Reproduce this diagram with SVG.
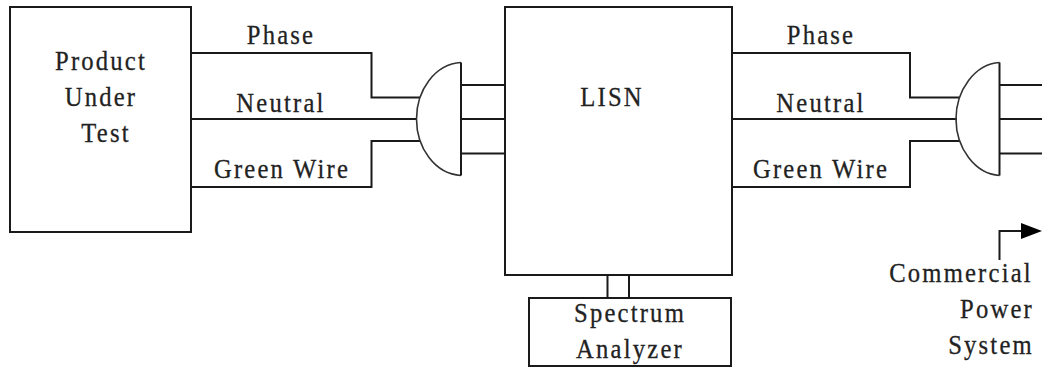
<svg xmlns="http://www.w3.org/2000/svg" width="1042" height="368" viewBox="0 0 1042 368">
<style>
.l{fill:none;stroke:#1a1a1a;stroke-width:2}
.a{fill:none;stroke:#333;stroke-width:1.6}
text{font-family:"Liberation Serif",serif;font-size:28px;letter-spacing:2.5px;fill:#222;stroke:#222;stroke-width:.3;text-anchor:middle}
</style>
<rect width="1042" height="368" fill="#fff"/>
<g id="connectors">
<path class="l" d="M191 53H371.500V97.500H420M191 119H417M191 187H371.500V141H420"/>
<path class="l" d="M461 85H505M461 119H505M461 153.500H505"/>
<path class="l" d="M732 53H910V97.500H960M732 119H957M732 187H910V141H960"/>
<path class="l" d="M1000 85H1042M1000 119H1042M1000 153.500H1042"/>
<path class="l" d="M607.500 275V298M629 275V298"/>
<path class="l" d="M999.500 260V231H1024"/>
<polygon points="1021,223 1042,231 1021,239" fill="#000"/>
</g>
<g id="product"><rect class="l" x="10" y="7" width="181" height="225"/>
<text transform="translate(101 70) scale(.88 1)">Product</text><text transform="translate(101 106) scale(.88 1)">Under</text><text transform="translate(106 142) scale(.88 1)">Test</text></g>
<g id="plug1"><path class="a" d="M461 62.500C435 64 416.500 90 416.500 119C416.500 148 435 174 461 175.500"/><path class="l" d="M461 62.500V175.500"/></g>
<g id="lisn"><rect class="l" x="505" y="7" width="227" height="268"/><text transform="translate(612 106) scale(.88 1)">LISN</text></g>
<g id="plug2"><path class="a" d="M999.500 62.500C975 64 956 90 956 119C956 148 975 174 999.500 175.500"/><path class="l" d="M999.500 62.500V175.500"/></g>
<g id="spectrum"><rect class="l" x="529" y="298" width="202" height="68"/>
<text transform="translate(630 322) scale(.88 1)">Spectrum</text><text transform="translate(630 358) scale(.88 1)">Analyzer</text></g>
<g id="labels">
<text transform="translate(281 44) scale(.88 1)">Phase</text><text transform="translate(281 112) scale(.88 1)">Neutral</text><text transform="translate(282 178) scale(.88 1)">Green Wire</text>
<text transform="translate(821 44) scale(.88 1)">Phase</text><text transform="translate(821 112) scale(.88 1)">Neutral</text><text transform="translate(821 178) scale(.88 1)">Green Wire</text>
<text transform="translate(961 282) scale(.88 1)">Commercial</text><text transform="translate(997 318) scale(.88 1)">Power</text><text transform="translate(991 354) scale(.88 1)">System</text>
</g>
</svg>
